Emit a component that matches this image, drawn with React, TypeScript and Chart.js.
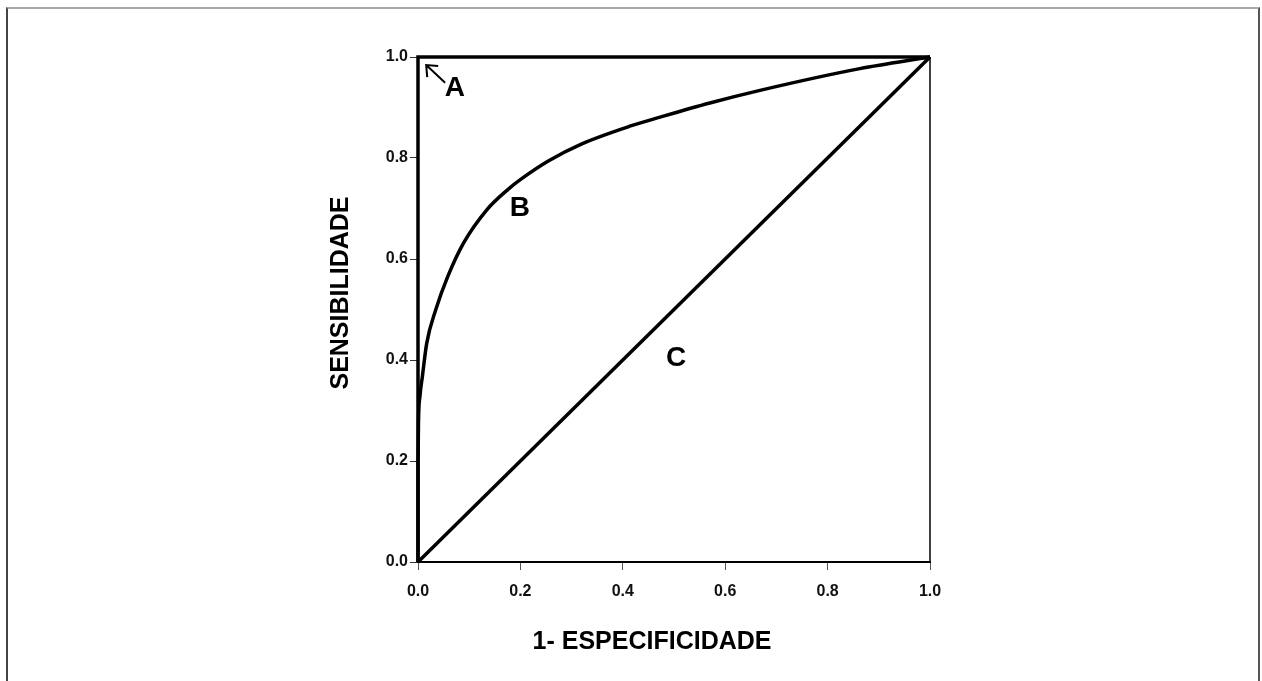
import React, { useEffect, useRef } from "react";
import { Chart, registerables } from "chart.js";

Chart.register(...registerables);

// Curve A: perfect test
const aX = [0, 0, 1];
const aY = [0, 1, 1];
// Curve B: good test
const bX = [0, 0, 0.001, 0.004, 0.0085, 0.017, 0.0345, 0.058, 0.0886, 0.134, 0.176, 0.2025, 0.2545, 0.32, 0.417, 0.473, 0.57, 0.668, 0.863, 1];
const bY = [0, 0.2, 0.28, 0.33, 0.367, 0.433, 0.499, 0.565, 0.631, 0.697, 0.738, 0.759, 0.794, 0.828, 0.864, 0.881, 0.909, 0.934, 0.977, 1];
// Curve C: chance line
const cX = [0, 1];
const cY = [0, 1];

const tickValues = [0, 0.2, 0.4, 0.6, 0.8, 1.0];
const xTitle = "1- ESPECIFICIDADE";
const yTitle = "SENSIBILIDADE";
const curveLabels = ["A", "B", "C"];
const labelX = [0.072, 0.199, 0.504];
const labelY = [0.939, 0.701, 0.404];
// arrow from label A to the corner (data units)
const arrowFrom = [0.053, 0.949];
const arrowTo = [0.016, 0.984];

const toPts = (xs: number[], ys: number[]) => xs.map((x, i) => ({ x, y: ys[i] }));

const FONT = "'Liberation Sans', Arial, Helvetica, sans-serif";

const decorPlugin = {
  id: "decor",
  afterDraw(chart: any) {
    const { ctx, chartArea, scales } = chart;
    const xs = scales.x;
    const ys = scales.y;
    ctx.save();
    // right frame line
    ctx.strokeStyle = "#000";
    ctx.lineWidth = 1.5;
    ctx.beginPath();
    ctx.moveTo(chartArea.right, chartArea.top);
    ctx.lineTo(chartArea.right, chartArea.bottom);
    ctx.stroke();

    // curve labels
    ctx.fillStyle = "#000";
    ctx.font = `bold 28px ${FONT}`;
    ctx.textAlign = "center";
    ctx.textBaseline = "middle";
    curveLabels.forEach((t, i) => {
      ctx.fillText(t, xs.getPixelForValue(labelX[i]), ys.getPixelForValue(labelY[i]));
    });

    // arrow
    const x1 = xs.getPixelForValue(arrowFrom[0]);
    const y1 = ys.getPixelForValue(arrowFrom[1]);
    const x2 = xs.getPixelForValue(arrowTo[0]);
    const y2 = ys.getPixelForValue(arrowTo[1]);
    ctx.lineWidth = 2;
    ctx.beginPath();
    ctx.moveTo(x1, y1);
    ctx.lineTo(x2, y2);
    ctx.moveTo(x2 + 12, y2 + 1);
    ctx.lineTo(x2, y2);
    ctx.lineTo(x2 + 1, y2 + 12);
    ctx.stroke();

    // axis titles
    ctx.font = `bold 25px ${FONT}`;
    ctx.fillText(xTitle, chartArea.left + 234, chartArea.bottom + 80);
    ctx.translate(chartArea.left - 77, chartArea.top + 236);
    ctx.rotate(-Math.PI / 2);
    ctx.fillText(yTitle, 0, 0);
    ctx.restore();
  },
};

export default function App() {
  const ref = useRef<HTMLCanvasElement | null>(null);
  useEffect(() => {
    if (!ref.current) return;
    const lineDs = (label: string, xs: number[], ys: number[], extra: any = {}) => ({
      label,
      data: toPts(xs, ys),
      borderColor: "#000",
      backgroundColor: "#000",
      borderWidth: 3.5,
      pointRadius: 0,
      fill: false,
      clip: false,
      borderJoinStyle: "miter",
      borderCapStyle: "butt",
      ...extra,
    });
    const chart = new Chart(ref.current, {
      type: "line",
      data: {
        datasets: [
          lineDs("A", aX, aY, { tension: 0 }),
          lineDs("B", bX, bY, { cubicInterpolationMode: "monotone", borderJoinStyle: "round" }),
          lineDs("C", cX, cY, { tension: 0 }),
        ],
      },
      plugins: [decorPlugin],
      options: {
        responsive: false,
        animation: false,
        layout: { padding: { left: 300, right: 332, top: 57, bottom: 0 } },
        plugins: { legend: { display: false }, tooltip: { enabled: false } },
        scales: {
          x: {
            type: "linear",
            min: 0,
            max: 1,
            afterBuildTicks: (s: any) => {
              s.ticks = tickValues.map((v) => ({ value: v }));
            },
            afterFit: (s: any) => {
              s.height = 119;
              s.paddingLeft = 0;
              s.paddingRight = 0;
            },
            ticks: {
              callback: (v: any) => Number(v).toFixed(1),
              font: { family: FONT, size: 16, weight: "bold" },
              color: "#111",
              padding: 12,
              maxRotation: 0,
            },
            grid: { drawOnChartArea: false, drawTicks: true, tickLength: 8, color: "#555", lineWidth: 1 },
            border: { display: true, color: "#000", width: 2 },
          },
          y: {
            type: "linear",
            min: 0,
            max: 1,
            afterBuildTicks: (s: any) => {
              s.ticks = tickValues.map((v) => ({ value: v }));
            },
            afterFit: (s: any) => {
              s.width = 118;
              s.paddingTop = 0;
              s.paddingBottom = 0;
            },
            ticks: {
              callback: (v: any) => Number(v).toFixed(1),
              font: { family: FONT, size: 16, weight: "bold" },
              color: "#111",
              padding: 2,
            },
            grid: { drawOnChartArea: false, drawTicks: true, tickLength: 8, color: "#333", lineWidth: 1 },
            border: { display: true, color: "#000", width: 2 },
          },
        },
      },
    } as any);
    return () => chart.destroy();
  }, []);

  return (
    <div style={{ position: "fixed", left: 0, top: 0, width: 1262, height: 681, background: "#fff", overflow: "hidden" }}>
      <div
        style={{
          position: "absolute",
          left: 6,
          top: 7,
          width: 1254,
          height: 700,
          borderTop: "2px solid #aaa",
          borderLeft: "2px solid #444",
          borderRight: "2px solid #555",
          boxSizing: "border-box",
        }}
      />
      <canvas ref={ref} width={1262} height={681} style={{ position: "absolute", left: 0, top: 0, display: "block" }} />
    </div>
  );
}
